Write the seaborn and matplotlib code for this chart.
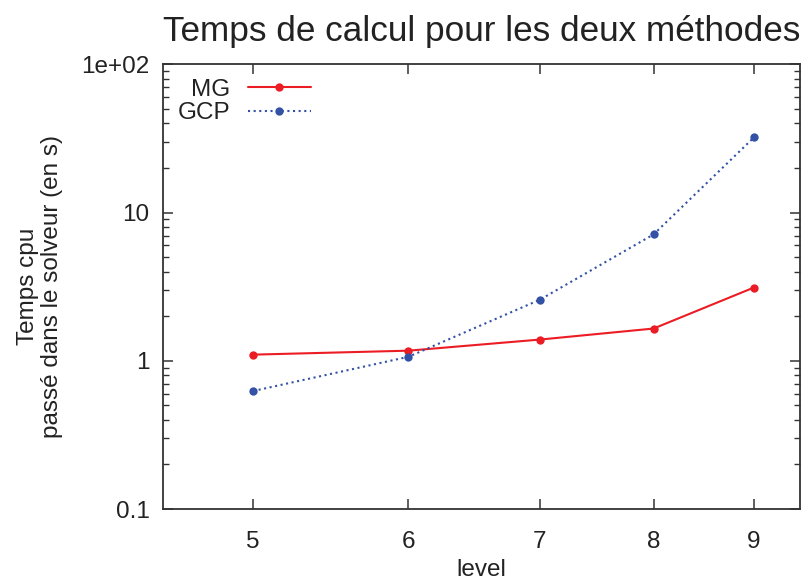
import matplotlib
matplotlib.use("Agg")
import matplotlib.pyplot as plt
import seaborn as sns
import pandas as pd
import numpy as np
from matplotlib.ticker import FixedLocator, FixedFormatter, LogLocator, NullFormatter, NullLocator

levels = [5, 6, 7, 8, 9]
mg = [1.10, 1.17, 1.39, 1.65, 3.12]
gcp = [0.625, 1.064, 2.58, 7.12, 32.1]
series = ["MG", "GCP"]
colors = {"MG": "#ec1c24", "GCP": "#3352a6"}
yticks = [0.1, 1, 10, 100]
yticklabels = ["0.1", "1", "10", "1e+02"]

df = pd.DataFrame({
    "level": levels * 2,
    "temps": mg + gcp,
    "methode": ["MG"] * len(levels) + ["GCP"] * len(levels),
})

sns.set_style("ticks")
plt.rcParams['font.family'] = ['Liberation Sans', 'DejaVu Sans']

fig = plt.figure(figsize=(8.07, 5.80), dpi=100)
ax = fig.add_axes([0.2024, 0.1224, 0.9913 - 0.2024, 0.8891 - 0.1224])

sns.lineplot(data=df, x="level", y="temps", hue="methode", style="methode",
             hue_order=series, style_order=series, palette=colors,
             dashes={"MG": "", "GCP": (1, 1.7)}, markers={"MG": "o", "GCP": "o"},
             markersize=6, markeredgewidth=0, linewidth=1.5, ax=ax)

ax.set_xscale("log")
ax.set_yscale("log")
ax.set_xlim(4.5, 9.5)
ax.set_ylim(0.1, 100)

ax.xaxis.set_major_locator(FixedLocator(levels))
ax.xaxis.set_major_formatter(FixedFormatter([str(v) for v in levels]))
ax.xaxis.set_minor_locator(NullLocator())
ax.yaxis.set_major_locator(FixedLocator(yticks))
ax.yaxis.set_major_formatter(FixedFormatter(yticklabels))
ax.yaxis.set_minor_locator(LogLocator(base=10, subs=np.arange(2, 10), numticks=20))
ax.yaxis.set_minor_formatter(NullFormatter())

for s in ax.spines.values():
    s.set_visible(True)
    s.set_color("#333333")
    s.set_linewidth(1.3)

ax.tick_params(which="major", direction="in", length=7, width=1.1, color="#333333",
               top=True, right=True, labelsize=17.5, pad=16, labelcolor="#222222")
ax.tick_params(which="minor", direction="in", length=4, width=1.0, color="#333333",
               top=True, right=True)
ax.tick_params(axis="y", which="major", pad=10)

ax.set_xlabel("level", fontsize=17.5, color="#222222", labelpad=4)
ax.set_ylabel("Temps cpu\npassé dans le solveur (en s)", fontsize=17.5, color="#222222",
              labelpad=13, linespacing=1.15)
ax.set_title("Temps de calcul pour les deux méthodes", fontsize=25.3, color="#222222", pad=17)

handles, labels = ax.get_legend_handles_labels()
leg = ax.legend(handles=handles, labels=labels, loc="upper left", frameon=False,
                markerfirst=False, fontsize=17.5, handlelength=2.6, handletextpad=0.7,
                labelspacing=0.05, borderaxespad=0.2, bbox_to_anchor=(0.0, 1.0))
for t in leg.get_texts():
    t.set_color("#222222")

fig.savefig("out.png", dpi=100)
